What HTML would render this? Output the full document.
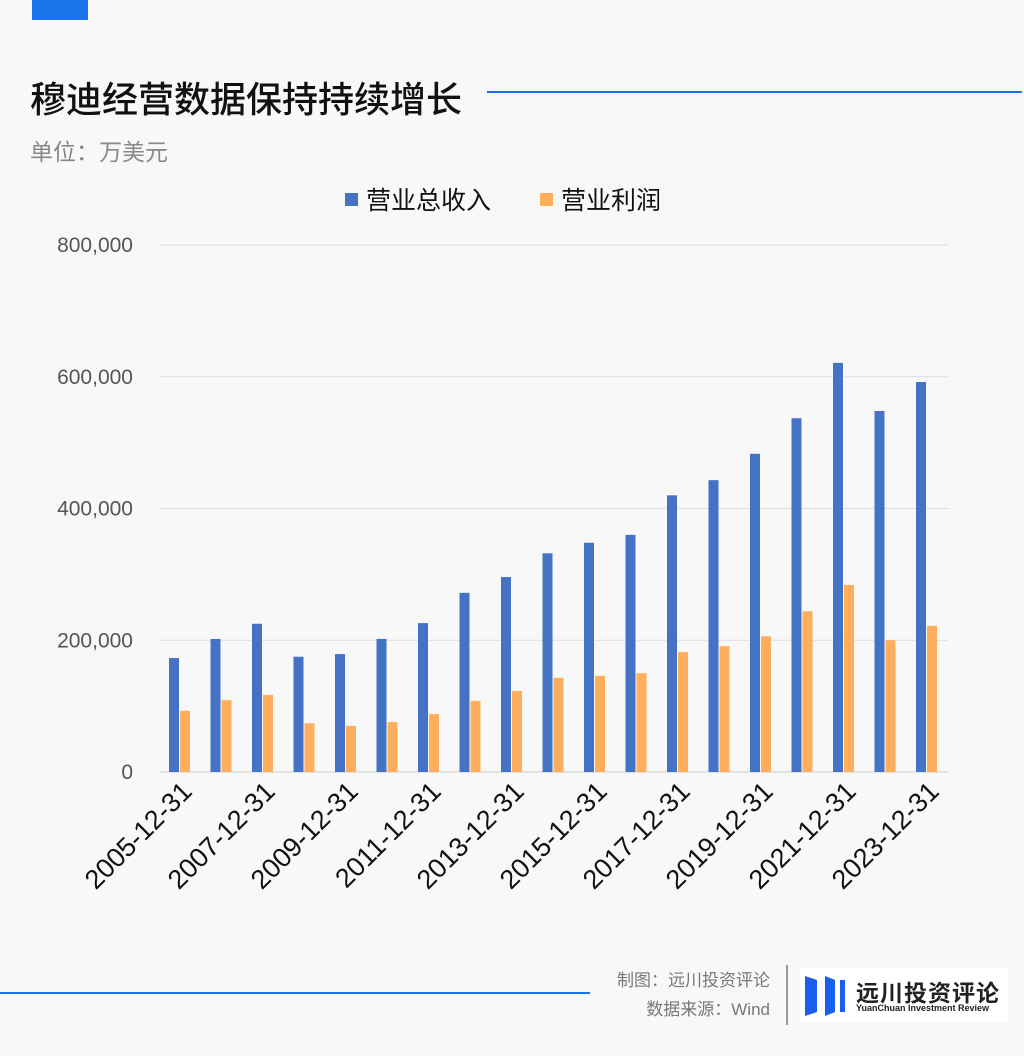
<!DOCTYPE html>
<html><head><meta charset="utf-8"><style>
body{margin:0;width:1024px;height:1056px;background:#f8f8f8;font-family:"Liberation Sans","Noto Sans CJK SC",sans-serif;overflow:hidden;position:relative}
.a{position:absolute}
</style></head><body>
<div class="a" style="left:32px;top:0;width:56px;height:20px;background:#1a73e8"></div>
<div class="a" style="left:30px;top:71px;font-size:36px;font-weight:500;color:#111">穆迪经营数据保持持续增长</div>
<div class="a" style="left:487px;top:91px;width:535px;height:2px;background:#1a73e8"></div>
<div class="a" style="left:30px;top:133px;font-size:23px;color:#888">单位：万美元</div>
<svg class="a" style="left:0;top:0" width="1024" height="1056">
<g id="g"></g>
</svg>
<div class="a" style="left:0;top:992px;width:590px;height:2px;background:#1a73e8"></div>
<div class="a" style="right:254px;top:966px;font-size:17px;color:#777;text-align:right;line-height:29px">制图：远川投资评论<br>数据来源：Wind</div>
<div class="a" style="left:786px;top:965px;width:2px;height:60px;background:#999"></div>
<div class="a" style="left:800px;top:968px;width:208px;height:54px;background:#fff">
<svg class="a" style="left:5px;top:8px" width="42" height="40"><polygon points="0,0 12,4 12,36 0,40" fill="#1a5ff0"/><polygon points="20,0 30,4 30,36 20,40" fill="#1a5ff0"/><polygon points="35,4 40,4 40,36 35,36" fill="#1a5ff0"/></svg>
<div class="a" style="left:56px;top:6px;font-size:23px;font-weight:bold;color:#222;letter-spacing:1px">远川投资评论</div>
<div class="a" style="left:56px;top:35px;font-size:9px;font-weight:bold;color:#222">YuanChuan Investment Review</div>
</div>
<script>
const years=["2005","2006","2007","2008","2009","2010","2011","2012","2013","2014","2015","2016","2017","2018","2019","2020","2021","2022","2023"];
const revenue=[173000,202000,225000,175000,179000,202000,226000,272000,296000,332000,348000,360000,420000,443000,483000,537000,621000,548000,592000];
const profit=[93000,109000,117000,74000,70000,76000,88000,108000,123000,143000,146000,150000,182000,191000,206000,244000,284000,200000,222000];
const yTicks=[0,200000,400000,600000,800000];
const NS="http://www.w3.org/2000/svg",g=document.getElementById('g');
const y=v=>772-v/800000*527, x=i=>179.5+i*41.5;
function mk(t,a,txt){const e=document.createElementNS(NS,t);for(const k in a)e.setAttribute(k,a[k]);if(txt!=null)e.textContent=txt;g.appendChild(e);return e;}
yTicks.forEach(v=>{const l=mk('line',{x1:160,x2:948,y1:y(v),y2:y(v),stroke:v?'#ddd':'#ccc','stroke-width':1});

const t=mk('text',{x:133,y:y(v)+7,'text-anchor':'end','font-size':21,fill:'#555'},v.toLocaleString('en-US'));
});
years.forEach((yr,i)=>{const b=mk('rect',{x:x(i)-10.5,y:y(revenue[i]),width:10,height:772-y(revenue[i]),fill:'#4472c4'});

const o=mk('rect',{x:x(i)+0.5,y:y(profit[i]),width:10,height:772-y(profit[i]),fill:'#ffae5c'});

if(i%2==0){const ax=x(i)+14,ay=793;const t=mk('text',{x:ax,y:ay,'text-anchor':'end','font-size':27,fill:'#111',transform:`rotate(-45 ${ax} ${ay})`},yr+'-12-31');
}});
[[345,'#4472c4','营业总收入'],[540,'#ffae5c','营业利润']].forEach(([lx,c,s])=>{const r=mk('rect',{x:lx,y:193,width:13,height:13,fill:c});

const t=mk('text',{x:lx+21,y:209,'font-size':25,fill:'#111'},s);
});
</script>
</body></html>
